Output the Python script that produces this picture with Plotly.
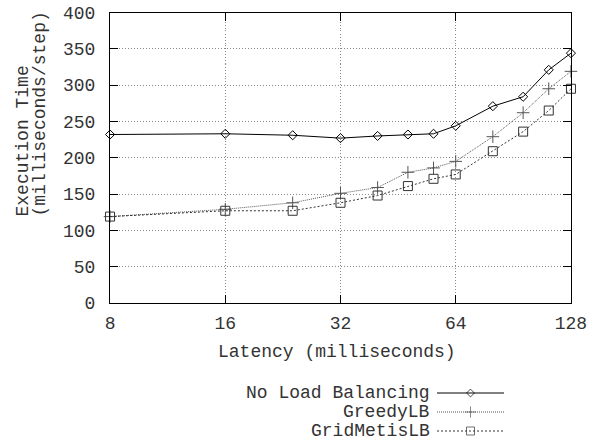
import math
import plotly.graph_objects as go

latency = [8, 16, 24, 32, 40, 48, 56, 64, 80, 96, 112, 128]
no_lb = [232, 233, 231, 227, 230, 232, 233, 244, 271, 284, 321, 344]
greedy = [119, 129, 138, 151, 159, 180, 186, 195, 229, 262, 295, 319]
gridmetis = [119, 127, 127, 138, 148, 161, 171, 177, 209, 236, 265, 295]

series_names = ["No Load Balancing", "GreedyLB", "GridMetisLB"]
x_ticks = [8, 16, 32, 64, 128]
y_ticks = [0, 50, 100, 150, 200, 250, 300, 350, 400]

W, H = 600, 448
FONT = "Liberation Mono"
FS = 18
TXT = "#333"

def px_x(p):
    return p / W

def px_y(p):
    return 1 - p / H

styles = [
    dict(color="black", dash="solid", symbol="diamond-open", size=7),
    dict(color="#555555", dash="1px,1px", symbol="cross-thin-open", size=9),
    dict(color="#333333", dash="2px,2px", symbol="square-open", size=9),
]
data = [no_lb, greedy, gridmetis]

fig = go.Figure()
for name, ys, st in zip(series_names, data, styles):
    fig.add_trace(go.Scatter(
        x=latency, y=ys, mode="lines+markers", name=name,
        line=dict(color=st["color"], dash=st["dash"], width=1),
        marker=dict(symbol=st["symbol"], size=st["size"], color=st["color"],
                    line=dict(width=1, color=st["color"])),
        showlegend=False, xaxis="x", yaxis="y", cliponaxis=False,
    ))

# legend samples drawn on an auxiliary axis pair
for i, (name, st) in enumerate(zip(series_names, styles)):
    fig.add_trace(go.Scatter(
        x=[0, 0.5, 1], y=[i, i, i], mode="lines+markers",
        line=dict(color=st["color"], dash=st["dash"], width=1),
        marker=dict(symbol=st["symbol"], size=[0, st["size"] - 1, 0],
                    color=st["color"], line=dict(width=1, color=st["color"])),
        showlegend=False, xaxis="x2", yaxis="y2", hoverinfo="skip",
    ))

annotations = []
row_py = [393, 411.5, 431]
for name, py in zip(series_names, row_py):
    annotations.append(dict(
        text=name, xref="paper", yref="paper", x=px_x(432), y=px_y(py),
        xanchor="right", yanchor="middle", showarrow=False,
        font=dict(family=FONT, size=FS, color=TXT),
    ))

annotations.append(dict(
    text="Execution Time", xref="paper", yref="paper", x=px_x(22), y=px_y(219),
    xanchor="center", yanchor="bottom", textangle=-90, showarrow=False,
    font=dict(family=FONT, size=FS, color=TXT),
))
annotations.append(dict(
    text="(milliseconds/step)", xref="paper", yref="paper", x=px_x(39), y=px_y(219),
    xanchor="center", yanchor="bottom", textangle=-90, showarrow=False,
    font=dict(family=FONT, size=FS, color=TXT),
))
annotations.append(dict(
    text="Latency (milliseconds)", xref="paper", yref="paper", x=px_x(337), y=px_y(352),
    xanchor="center", yanchor="middle", showarrow=False,
    font=dict(family=FONT, size=FS, color=TXT),
))

axis_common = dict(
    showline=True, linecolor="black", linewidth=1, mirror="ticks",
    ticks="inside", ticklen=8, tickcolor="black", tickwidth=1,
    showgrid=True, gridcolor="#888888", griddash="1px,2px", gridwidth=1,
    zeroline=False, automargin=False, ticklabeloverflow="allow",
    tickfont=dict(family=FONT, size=FS, color=TXT),
)

eps = 1e-4
fig.update_layout(
    width=W, height=H,
    margin=dict(l=0, r=0, t=0, b=0),
    paper_bgcolor="white", plot_bgcolor="white",
    xaxis=dict(type="log", range=[math.log10(8) - eps, math.log10(128) + eps],
               tickvals=x_ticks, ticktext=[str(v) for v in x_ticks],
               domain=[px_x(110), px_x(571)], anchor="y",
               ticklabelstandoff=3, **axis_common),
    yaxis=dict(range=[0, 400], tickvals=y_ticks,
               domain=[px_y(303), px_y(12.5)], anchor="x",
               ticklabelstandoff=10, **axis_common),
    xaxis2=dict(domain=[px_x(437), px_x(504)], range=[0, 1], visible=False,
                anchor="y2", fixedrange=True),
    yaxis2=dict(domain=[px_y(440.5), px_y(383.5)], range=[2.5, -0.5], visible=False,
                anchor="x2", fixedrange=True),
    annotations=annotations,
    showlegend=False,
)

fig.write_html("out.html",
               config={"displayModeBar": False, "staticPlot": True},
               post_script="document.body.style.margin='0';document.body.style.overflow='hidden';")
